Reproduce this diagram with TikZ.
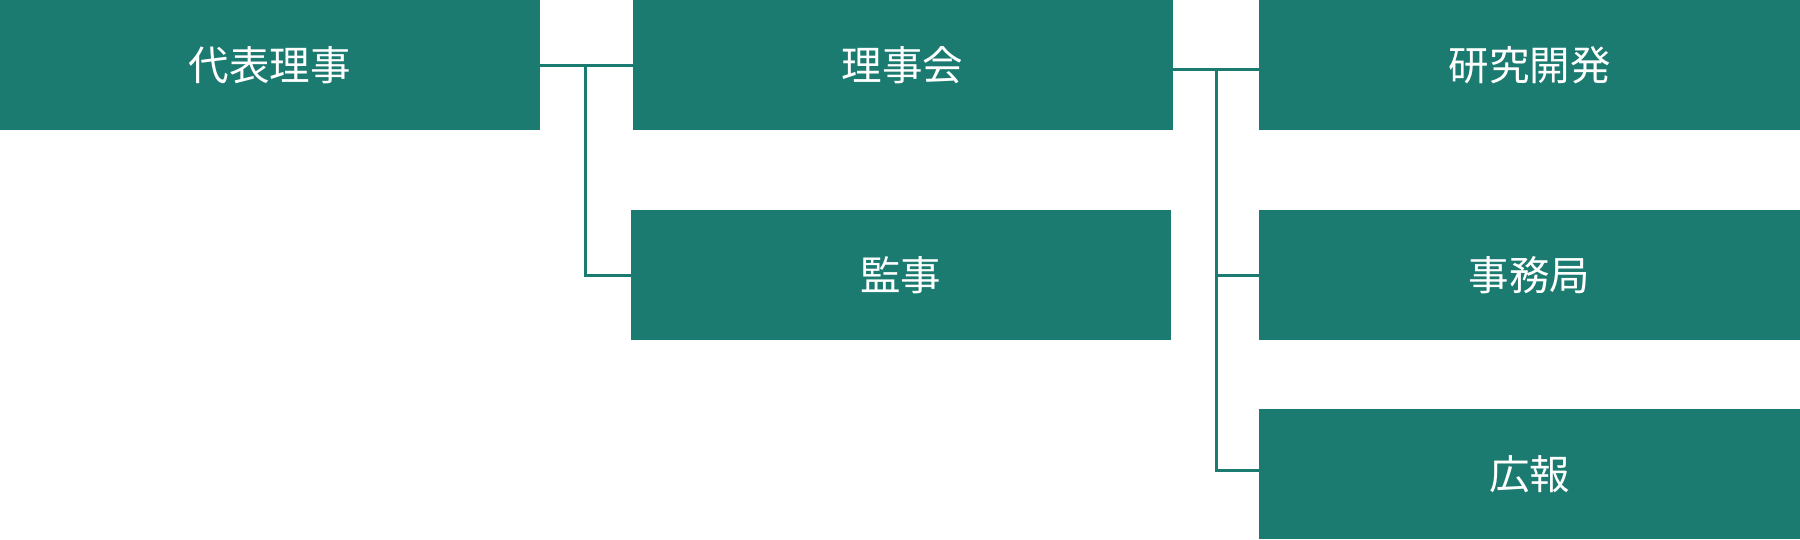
\documentclass[tikz,border=0pt]{standalone}
\usepackage{fontspec}
\newfontfamily\cjk{Noto Sans CJK JP}
\definecolor{teal1}{RGB}{27,123,112}
\tikzset{
  orgbox/.style={fill=teal1, draw=none, text=white, font=\cjk\fontsize{40.5}{42}\selectfont, inner sep=0pt, anchor=north west},
  link/.style={draw=teal1, line width=3pt}
}
\begin{document}
\begin{tikzpicture}[x=1pt,y=-1pt]
\useasboundingbox (0,0) rectangle (1800,539);
\node[orgbox, minimum width=539.5pt, minimum height=130pt] (rep) at (0,0) {代表理事};
\node[orgbox, minimum width=540pt, minimum height=130pt] (board) at (632.5,0) {理事会};
\node[orgbox, minimum width=540pt, minimum height=130pt] (audit) at (630.5,210) {監事};
\node[orgbox, minimum width=541pt, minimum height=130pt] (rd) at (1259,0) {研究開発};
\node[orgbox, minimum width=541pt, minimum height=130pt] (office) at (1259,210) {事務局};
\node[orgbox, minimum width=541pt, minimum height=130pt] (pr) at (1259,408.5) {広報};
\coordinate (j1) at (585.5,65.5);
\coordinate (j2) at (1216,69);
\draw[link] (rep.east |- j1) -- (board.west |- j1);
\draw[link] (j1) |- (audit.west);
\draw[link] (board.east |- j2) -- (rd.west |- j2);
\draw[link] (j2) |- (office.west);
\draw[link] (j2) |- (pr.west |- 0,470.5);
\end{tikzpicture}
\end{document}
